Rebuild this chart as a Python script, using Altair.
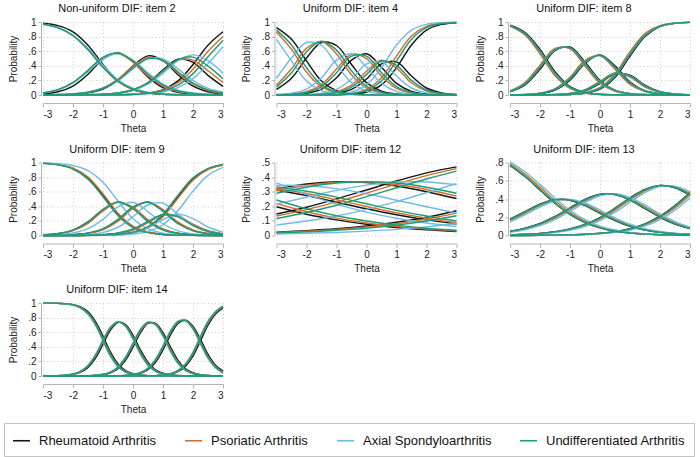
import altair as alt
import pandas as pd

FONT = "Liberation Sans"

GROUPS = ["Rheumatoid Arthritis", "Psoriatic Arthritis",
          "Axial Spondyloarthritis", "Undifferentiated Arthritis"]
COLORS = ["#161616", "#d0702c", "#70bce6", "#1f9b79"]

# Theta grids the category curves are sampled on
THETA_ONE = [-3, -2, -1, 0, 1, 2, 3]
THETA_HALF = [-3, -2.5, -2, -1.5, -1, -0.5, 0, 0.5, 1, 1.5, 2, 2.5, 3]
THETA_QUARTER = [-3, -2.75, -2.5, -2.25, -2, -1.75, -1.5, -1.25, -1, -0.75, -0.5, -0.25,
                 0, 0.25, 0.5, 0.75, 1, 1.25, 1.5, 1.75, 2, 2.25, 2.5, 2.75, 3]

# Category response probabilities (one list per response category), item 2
item2_ra = [
    [.983, .951, .866, .683, .418, .193, .074, .026, .009, .003, .001, 0, 0],
    [.016, .045, .123, .285, .492, .577, .453, .245, .101, .036, .013, .005, .002],
    [.001, .004, .010, .029, .081, .204, .399, .536, .472, .278, .120, .044, .015],
    [0, 0, .001, .003, .008, .023, .065, .167, .344, .490, .448, .268, .117],
    [0, 0, 0, 0, .001, .003, .009, .026, .074, .193, .418, .683, .866],
]
item2_psa = [
    [.971, .924, .818, .622, .378, .182, .076, .029, .011, .004, .002, .001, 0],
    [.027, .070, .166, .335, .513, .568, .449, .260, .119, .048, .018, .006, .003],
    [.002, .006, .014, .038, .097, .218, .392, .513, .469, .302, .148, .062, .024],
    [0, 0, .002, .005, .011, .028, .073, .171, .332, .478, .478, .332, .171],
    [0, 0, 0, 0, .001, .004, .010, .027, .069, .168, .354, .599, .802],
]
item2_axspa = [
    [.968, .922, .821, .639, .406, .209, .093, .038, .015, .006, .002, .001, 0],
    [.029, .072, .163, .319, .493, .566, .478, .302, .150, .065, .027, .010, .004],
    [.003, .006, .014, .038, .090, .196, .358, .495, .495, .358, .196, .090, .038],
    [0, 0, .002, .004, .010, .026, .065, .149, .298, .470, .550, .470, .298],
    [0, 0, 0, 0, .001, .003, .006, .016, .042, .101, .225, .429, .660],
]
item2_uda = [
    [.968, .920, .812, .620, .380, .188, .080, .032, .012, .005, .002, .001, 0],
    [.030, .074, .172, .338, .516, .575, .469, .282, .135, .056, .022, .008, .003],
    [.002, .006, .014, .037, .092, .205, .371, .498, .473, .319, .164, .071, .029],
    [0, 0, .002, .005, .011, .029, .072, .166, .324, .484, .519, .395, .223],
    [0, 0, 0, 0, .001, .003, .008, .022, .056, .136, .293, .525, .745],
]

# item 4
item4_ra = [
    [.922, .763, .468, .193, .061, .018, .005, .001, 0, 0, 0, 0, 0],
    [.076, .230, .506, .719, .678, .417, .169, .053, .015, .004, .001, 0, 0],
    [.002, .006, .024, .081, .235, .477, .565, .381, .159, .050, .014, .004, .001],
    [0, .001, .002, .006, .023, .076, .219, .426, .453, .260, .096, .029, .008],
    [0, 0, 0, .001, .003, .012, .042, .139, .373, .686, .889, .967, .991],
]
item4_psa = [
    [.861, .627, .314, .111, .033, .009, .003, .001, 0, 0, 0, 0, 0],
    [.135, .359, .638, .733, .563, .278, .096, .028, .008, .002, .001, 0, 0],
    [.004, .013, .044, .142, .356, .557, .497, .258, .091, .027, .007, .002, .001],
    [0, .001, .003, .012, .042, .134, .326, .476, .369, .164, .053, .016, .004],
    [0, 0, .001, .002, .006, .022, .078, .237, .532, .807, .939, .982, .995],
]
item4_axspa = [
    [.763, .468, .193, .061, .018, .005, .001, 0, 0, 0, 0, 0, 0],
    [.230, .506, .719, .678, .417, .169, .053, .015, .004, .001, 0, 0, 0],
    [.006, .024, .081, .235, .477, .565, .381, .159, .050, .014, .004, .001, 0],
    [.001, .002, .006, .023, .076, .219, .426, .453, .260, .096, .029, .008, .003],
    [0, 0, .001, .003, .012, .042, .139, .373, .686, .889, .967, .991, .997],
]
item4_uda = [
    [.889, .686, .373, .139, .042, .012, .003, .001, 0, 0, 0, 0, 0],
    [.108, .304, .590, .736, .615, .331, .122, .036, .010, .003, .001, 0, 0],
    [.003, .009, .034, .115, .306, .532, .532, .306, .115, .034, .009, .003, .001],
    [0, .001, .003, .009, .032, .107, .282, .464, .407, .200, .068, .019, .005],
    [0, 0, 0, .001, .005, .018, .061, .193, .468, .763, .922, .978, .994],
]

# item 8
item8_ra = [
    [.955, .856, .625, .318, .115, .035, .010, .003, .001, 0, 0, 0, 0],
    [.043, .138, .353, .606, .657, .452, .199, .066, .019, .006, .002, .001, 0],
    [.002, .005, .020, .069, .204, .431, .550, .399, .178, .058, .017, .004, .002],
    [0, .001, .001, .005, .017, .058, .159, .291, .270, .134, .045, .014, .003],
    [0, 0, .001, .002, .007, .024, .082, .241, .532, .802, .936, .981, .995],
]
item8_psa = [
    [.943, .822, .563, .265, .092, .027, .008, .002, .001, 0, 0, 0, 0],
    [.055, .170, .408, .639, .633, .397, .163, .052, .015, .004, .001, 0, 0],
    [.002, .007, .026, .087, .244, .473, .538, .352, .144, .047, .014, .004, .001],
    [0, .001, .002, .006, .022, .072, .188, .303, .246, .109, .036, .011, .003],
    [0, 0, .001, .003, .009, .031, .103, .291, .594, .840, .949, .985, .996],
]
item8_axspa = [
    [.950, .842, .600, .297, .106, .032, .009, .003, .001, 0, 0, 0, 0],
    [.048, .151, .375, .619, .647, .430, .185, .061, .018, .005, .002, .001, 0],
    [.002, .006, .022, .076, .220, .448, .545, .380, .165, .054, .016, .004, .002],
    [0, .001, .002, .006, .019, .064, .171, .296, .261, .124, .042, .013, .003],
    [0, 0, .001, .003, .008, .027, .090, .261, .557, .817, .941, .983, .996],
]
item8_uda = [
    [.949, .839, .594, .292, .104, .031, .009, .003, .001, 0, 0, 0, 0],
    [.049, .154, .381, .623, .645, .425, .181, .059, .017, .005, .002, .001, 0],
    [.002, .006, .023, .078, .224, .452, .544, .376, .161, .053, .016, .004, .002],
    [0, .001, .002, .006, .020, .065, .174, .297, .258, .122, .041, .013, .003],
    [0, 0, .001, .003, .008, .028, .093, .266, .563, .821, .943, .983, .996],
]

# item 9
item9_ra = [
    [.990, .971, .918, .789, .555, .293, .121, .044, .015, .005, .002, .001, 0],
    [.009, .025, .070, .175, .345, .457, .379, .206, .085, .031, .010, .003, .001],
    [.001, .003, .010, .031, .085, .206, .379, .457, .345, .175, .070, .025, .009],
    [0, 0, .001, .003, .010, .030, .081, .183, .284, .262, .148, .061, .022],
    [0, 0, .001, .002, .005, .014, .040, .110, .271, .527, .770, .910, .968],
]
item9_psa = [
    [.991, .973, .923, .800, .570, .306, .128, .047, .016, .006, .002, .001, 0],
    [.008, .023, .066, .167, .337, .456, .387, .215, .090, .033, .011, .004, .001],
    [.001, .003, .009, .029, .080, .197, .371, .458, .353, .183, .075, .027, .010],
    [0, 0, .001, .003, .009, .028, .076, .177, .282, .266, .154, .065, .024],
    [0, 0, .001, .002, .005, .013, .037, .103, .258, .512, .758, .904, .965],
]
item9_axspa = [
    [.995, .986, .960, .890, .729, .473, .230, .090, .032, .011, .004, .001, 0],
    [.004, .012, .034, .093, .222, .393, .453, .328, .161, .063, .022, .008, .003],
    [.001, .002, .005, .015, .042, .113, .257, .421, .441, .292, .135, .051, .018],
    [0, 0, .001, .001, .005, .015, .041, .107, .219, .293, .231, .116, .046],
    [0, 0, 0, .001, .002, .006, .019, .054, .147, .341, .608, .824, .933],
]
item9_uda = [
    [.988, .967, .909, .771, .530, .271, .109, .039, .013, .004, .002, .001, 0],
    [.011, .028, .078, .189, .359, .459, .366, .191, .076, .027, .009, .003, .001],
    [.001, .003, .011, .035, .094, .221, .392, .455, .331, .161, .063, .022, .007],
    [0, 0, .001, .003, .011, .034, .089, .193, .288, .255, .138, .055, .018],
    [0, 0, .001, .002, .006, .016, .045, .122, .292, .552, .789, .920, .974],
]

# item 12 (sampled on THETA_ONE)
item12_ra = [
    [.197, .146, .107, .077, .055, .039, .028],
    [.312, .274, .228, .183, .142, .107, .079],
    [.321, .353, .368, .363, .339, .300, .253],
    [.147, .194, .251, .312, .373, .429, .470],
    [.023, .033, .046, .065, .091, .125, .170],
]
item12_psa = [
    [.218, .163, .119, .086, .062, .044, .031],
    [.322, .288, .245, .199, .156, .119, .088],
    [.307, .343, .365, .367, .349, .315, .270],
    [.133, .177, .230, .290, .352, .410, .458],
    [.020, .029, .041, .058, .081, .112, .153],
]
item12_axspa = [
    [.360, .282, .215, .160, .118, .085, .061],
    [.343, .341, .321, .286, .242, .197, .154],
    [.215, .263, .309, .345, .366, .366, .348],
    [.072, .099, .134, .179, .232, .293, .355],
    [.010, .015, .021, .030, .042, .059, .082],
]
item12_uda = [
    [.243, .183, .135, .099, .071, .050, .036],
    [.333, .303, .263, .217, .172, .133, .099],
    [.289, .331, .359, .368, .359, .331, .289],
    [.117, .158, .207, .266, .327, .387, .441],
    [.018, .025, .036, .050, .071, .099, .135],
]

# item 13
item13_ra = [
    [.769, .646, .500, .354, .231, .142, .083, .047, .027, .015, .008, .005, .002],
    [.178, .261, .343, .392, .387, .328, .244, .164, .101, .059, .034, .019, .011],
    [.045, .079, .132, .209, .303, .395, .452, .448, .387, .294, .200, .125, .075],
    [.007, .013, .023, .041, .072, .122, .197, .299, .411, .504, .547, .524, .442],
    [.001, .001, .002, .004, .007, .013, .024, .042, .074, .128, .211, .327, .470],
]
item13_psa = [
    [.789, .673, .530, .383, .254, .158, .093, .054, .031, .017, .009, .006, .003],
    [.164, .244, .328, .385, .392, .342, .262, .179, .112, .067, .039, .022, .013],
    [.041, .071, .120, .192, .284, .378, .444, .453, .402, .314, .218, .139, .084],
    [.006, .012, .021, .037, .065, .111, .180, .277, .389, .488, .542, .533, .461],
    [.001, .001, .002, .004, .007, .012, .022, .038, .067, .116, .193, .302, .441],
]
item13_axspa = [
    [.808, .699, .560, .411, .277, .174, .103, .060, .034, .019, .010, .006, .003],
    [.150, .227, .312, .378, .396, .356, .279, .194, .123, .074, .043, .024, .014],
    [.036, .063, .108, .175, .264, .361, .436, .457, .417, .333, .236, .152, .092],
    [.005, .010, .018, .033, .057, .099, .163, .255, .366, .471, .537, .541, .480],
    [.001, .001, .002, .003, .006, .010, .019, .034, .060, .103, .174, .277, .411],
]
item13_uda = [
    [.771, .649, .504, .358, .234, .144, .084, .048, .027, .015, .008, .005, .002],
    [.176, .258, .340, .391, .388, .330, .247, .166, .103, .060, .035, .019, .011],
    [.044, .078, .130, .206, .299, .392, .451, .449, .389, .297, .203, .127, .076],
    [.007, .013, .022, .040, .071, .120, .194, .295, .407, .501, .547, .526, .446],
    [.001, .001, .002, .004, .007, .013, .023, .041, .072, .125, .207, .322, .464],
]

# item 14 (sampled on THETA_QUARTER)
item14_ra = [
    [.999, .998, .996, .991, .978, .947, .879, .746, .545, .327, .165, .074, .032,
     .013, .005, .002, .001, 0, 0, 0, 0, 0, 0, 0, 0],
    [.001, .002, .004, .009, .022, .052, .118, .246, .436, .628, .732, .705, .557,
     .355, .187, .086, .037, .016, .006, .003, .001, 0, 0, 0, 0],
    [0, 0, 0, 0, 0, .001, .003, .008, .019, .044, .100, .215, .395,
     .594, .720, .720, .594, .395, .215, .100, .044, .019, .008, .003, .001],
    [0, 0, 0, 0, 0, 0, 0, 0, 0, .001, .003, .006, .016,
     .037, .086, .188, .358, .564, .720, .763, .680, .498, .296, .148, .066],
    [0, 0, 0, 0, 0, 0, 0, 0, 0, 0, 0, 0, 0,
     .001, .002, .004, .010, .025, .059, .134, .275, .483, .696, .849, .933],
]
item14_psa = [
    [.999, .998, .995, .990, .974, .939, .863, .719, .511, .297, .145, .063, .027,
     .011, .004, .002, .001, 0, 0, 0, 0, 0, 0, 0, 0],
    [.001, .002, .005, .010, .025, .060, .134, .271, .467, .652, .738, .691, .529,
     .325, .165, .074, .031, .014, .005, .003, .001, 0, 0, 0, 0],
    [0, 0, 0, 0, 0, .001, .004, .009, .022, .050, .114, .239, .425,
     .620, .730, .710, .568, .365, .191, .086, .038, .016, .007, .002, .001],
    [0, 0, 0, 0, 0, 0, 0, 0, 0, .001, .003, .007, .018,
     .043, .098, .210, .388, .593, .736, .760, .659, .467, .268, .130, .053],
    [0, 0, 0, 0, 0, 0, 0, 0, 0, 0, 0, 0, 0,
     .001, .002, .005, .012, .029, .068, .151, .303, .517, .725, .868, .946],
]
item14_axspa = [
    [.999, .998, .995, .988, .971, .931, .847, .693, .478, .266, .125, .053, .022,
     .009, .003, .001, .001, 0, 0, 0, 0, 0, 0, 0, 0],
    [.001, .002, .005, .012, .029, .067, .149, .297, .497, .675, .744, .677, .501,
     .296, .144, .062, .026, .011, .004, .002, .001, 0, 0, 0, 0],
    [0, 0, 0, 0, 0, .001, .004, .011, .025, .057, .127, .262, .456,
     .646, .740, .700, .542, .334, .168, .073, .031, .013, .005, .002, .001],
    [0, 0, 0, 0, 0, 0, 0, 0, 0, .001, .004, .008, .021,
     .048, .110, .232, .418, .622, .752, .757, .638, .437, .240, .111, .040],
    [0, 0, 0, 0, 0, 0, 0, 0, 0, 0, 0, 0, 0,
     .001, .002, .005, .013, .033, .076, .169, .331, .550, .755, .887, .960],
]
item14_uda = [
    [.999, .998, .995, .989, .973, .935, .855, .706, .495, .281, .135, .058, .025,
     .010, .004, .002, .001, 0, 0, 0, 0, 0, 0, 0, 0],
    [.001, .002, .005, .011, .027, .064, .141, .284, .482, .664, .741, .684, .515,
     .311, .155, .068, .029, .012, .004, .002, .001, 0, 0, 0, 0],
    [0, 0, 0, 0, 0, .001, .004, .010, .023, .054, .121, .250, .440,
     .633, .735, .705, .555, .350, .180, .079, .034, .015, .006, .002, .001],
    [0, 0, 0, 0, 0, 0, 0, 0, 0, .001, .004, .008, .020,
     .045, .104, .221, .403, .607, .744, .758, .648, .452, .254, .120, .046],
    [0, 0, 0, 0, 0, 0, 0, 0, 0, 0, 0, 0, 0,
     .001, .002, .005, .013, .031, .072, .160, .317, .534, .740, .877, .953],
]

TICKS_1 = [0, .2, .4, .6, .8, 1]
TICKS_05 = [0, .1, .2, .3, .4, .5]
TICKS_08 = [0, .2, .4, .6, .8]

Y_LABELS = ("datum.value == 0 ? '0' : datum.value == 1 ? '1' : "
            "replace(format(datum.value, '.1f'), '0.', '.')")

LEGEND = alt.Legend(
    orient="none", legendX=-39, legendY=401, direction="horizontal", title=None,
    symbolType="stroke", symbolSize=289, symbolStrokeWidth=1.6,
    labelFont=FONT, labelFontSize=13, labelColor="#111111", labelOffset=8,
    labelLimit=400, columnPadding=24, padding=8,
    strokeColor="#c4c4c4", fillColor="#ffffff",
)


def frame(theta, series):
    rows = []
    for group, cats in zip(GROUPS, series):
        for k, vals in enumerate(cats):
            for t, p in zip(theta, vals):
                rows.append({"theta": t, "p": p, "group": group, "cat": k})
    return pd.DataFrame(rows)


def panel(title, theta, series, ymax, yticks):
    return alt.Chart(frame(theta, series)).mark_line(
        strokeWidth=1.45, interpolate="catmull-rom"
    ).encode(
        x=alt.X("theta:Q",
                scale=alt.Scale(domain=[-3, 3], nice=False, zero=False),
                axis=alt.Axis(values=[-3, -2, -1, 0, 1, 2, 3], title="Theta",
                              labelExpr="'' + datum.value", offset=8, tickSize=4,
                              labelPadding=2, titlePadding=4)),
        y=alt.Y("p:Q",
                scale=alt.Scale(domain=[0, ymax], nice=False),
                axis=alt.Axis(values=yticks, title="Probability", labelExpr=Y_LABELS,
                              offset=2, tickSize=3, labelPadding=2, titlePadding=4,
                              minExtent=19, maxExtent=19)),
        color=alt.Color("group:N", scale=alt.Scale(domain=GROUPS, range=COLORS),
                        legend=LEGEND),
        detail="cat:N",
    ).properties(
        width=180, height=73,
        title=alt.TitleParams(title, frame="bounds", anchor="middle", offset=3),
    )


panels = [
    panel("Non-uniform DIF: item 2", THETA_HALF,
          [item2_ra, item2_psa, item2_axspa, item2_uda], 1, TICKS_1),
    panel("Uniform DIF: item 4", THETA_HALF,
          [item4_ra, item4_psa, item4_axspa, item4_uda], 1, TICKS_1),
    panel("Uniform DIF: item 8", THETA_HALF,
          [item8_ra, item8_psa, item8_axspa, item8_uda], 1, TICKS_1),
    panel("Uniform DIF: item 9", THETA_HALF,
          [item9_ra, item9_psa, item9_axspa, item9_uda], 1, TICKS_1),
    panel("Uniform DIF: item 12", THETA_ONE,
          [item12_ra, item12_psa, item12_axspa, item12_uda], .5, TICKS_05),
    panel("Uniform DIF: item 13", THETA_HALF,
          [item13_ra, item13_psa, item13_axspa, item13_uda], .8, TICKS_08),
    panel("Uniform DIF: item 14", THETA_QUARTER,
          [item14_ra, item14_psa, item14_axspa, item14_uda], 1, TICKS_1),
]

chart = alt.concat(
    *panels, columns=3, spacing={"row": 67.5, "column": 53.5}, bounds="flush"
).properties(
    padding={"left": 3, "top": 2, "right": 0, "bottom": 0},
    background="#ffffff",
).configure_view(
    stroke="transparent"
).configure_axis(
    labelFont=FONT, titleFont=FONT, labelFontSize=10, titleFontSize=10,
    labelColor="#222222", titleColor="#222222", titleFontWeight="normal",
    domainColor="#b5b5b5", tickColor="#b5b5b5",
    grid=True, gridColor="#cfcfcf", gridDash=[1, 2.5], gridWidth=1,
).configure_title(
    font=FONT, fontSize=11, fontWeight="normal", color="#111111",
)

chart.save("out.html", embed_options={"renderer": "svg", "actions": False})
